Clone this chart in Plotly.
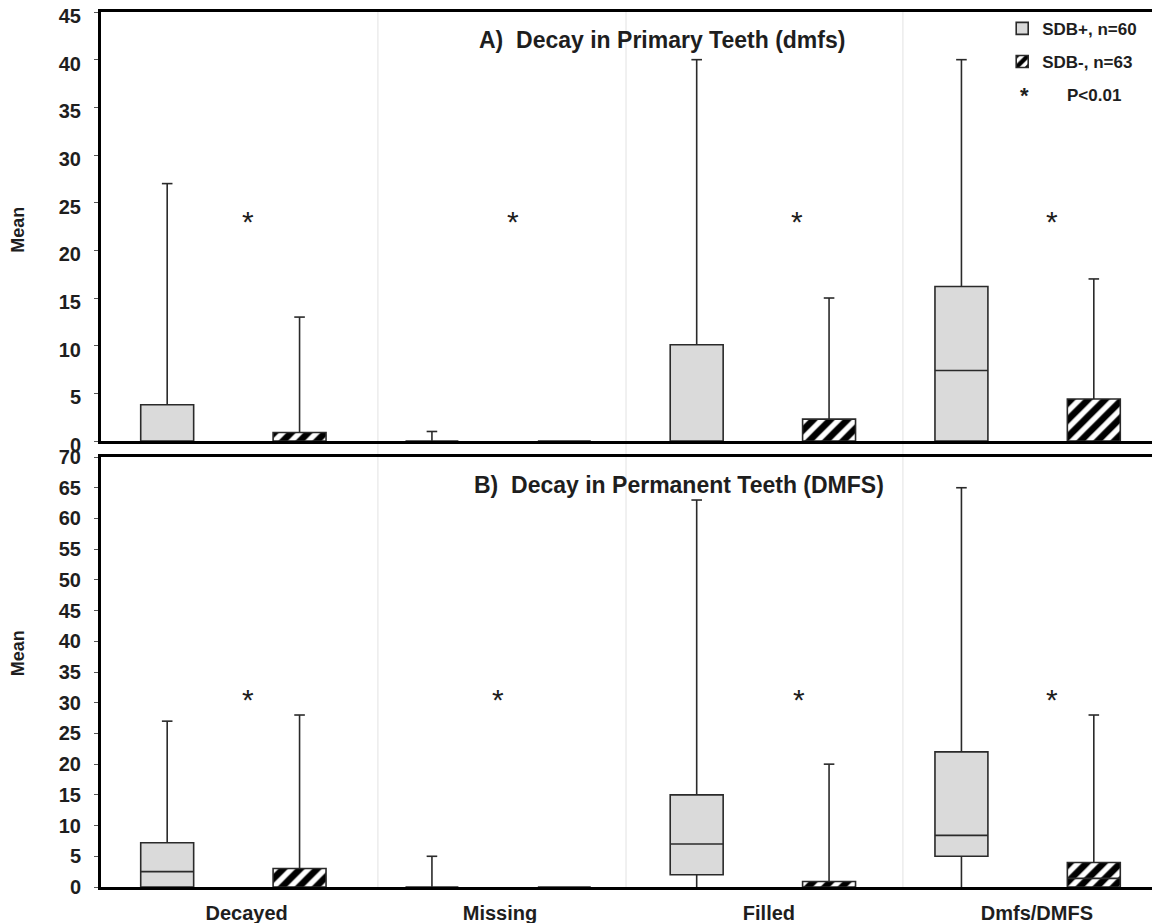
import plotly.graph_objects as go

# ---------------- data ----------------
categories = ["Decayed", "Missing", "Filled", "Dmfs/DMFS"]
series_names = ["SDB+, n=60", "SDB-, n=63"]

# Panel A: Decay in primary teeth (dmfs)
a_pos_min = [0, 0, 0, 0]
a_pos_q1 = [0, 0, 0, 0]
a_pos_med = [0, 0, 0, 7.4]
a_pos_q3 = [3.8, 0, 10.1, 16.2]
a_pos_max = [27, 1, 40, 40]

a_neg_min = [0, 0, 0, 0]
a_neg_q1 = [0, 0, 0, 0]
a_neg_med = [0, 0, 0, 0]
a_neg_q3 = [0.9, 0, 2.3, 4.4]
a_neg_max = [13, 0, 15, 17]

# Panel B: Decay in permanent teeth (DMFS)
b_pos_min = [0, 0, 0, 0]
b_pos_q1 = [0, 0, 2, 5]
b_pos_med = [2.5, 0, 7, 8.4]
b_pos_q3 = [7.2, 0, 15, 22]
b_pos_max = [27, 5, 63, 65]

b_neg_min = [0, 0, 0, 0]
b_neg_q1 = [0, 0, 0, 0]
b_neg_med = [0, 0, 0, 1.4]
b_neg_q3 = [3.0, 0, 0.9, 4.0]
b_neg_max = [28, 0, 20, 28]

# significance star heights (value units) per panel
a_star_level = 23.0
b_star_level = 30.6

y_ticks_a = list(range(0, 46, 5))
y_ticks_b = list(range(0, 71, 5))

# ---------------- layout constants ----------------
FONT = "Arial, Liberation Sans, sans-serif"
TXT = "#1e1e1e"
BOX_FILL = "#dadada"
EDGE = "#2a2a2a"
idx = list(range(len(categories)))
OFF = 0.25
BOX_W = 0.2
CAP = 0.02
pos_x = [i - OFF for i in idx]
neg_x = [i + OFF for i in idx]
label_shift = [0.05, 0.007, 0.023, 0.035]
star_shift_a = [0.055, 0.056, 0.129, 0.092]
star_shift_b = [0.055, -0.001, 0.136, 0.092]
separators = [0.546, 1.483, 2.529]


def whiskers(xs, mins, q1, q3, maxs):
    X, Y = [], []
    for x, mn, lo, hi, mx in zip(xs, mins, q1, q3, maxs):
        if mx > hi:
            X += [x, x, None, x - CAP, x + CAP, None]
            Y += [hi, mx, None, mx, mx, None]
        if lo > mn:
            X += [x, x, None]
            Y += [mn, lo, None]
    return X, Y


def medians(xs, q1, med):
    X, Y = [], []
    for x, lo, m in zip(xs, q1, med):
        if m > lo:
            X += [x - BOX_W / 2, x + BOX_W / 2, None]
            Y += [m, m, None]
    return X, Y


fig = go.Figure()

panels = [
    ("x", "y", a_pos_min, a_pos_q1, a_pos_med, a_pos_q3, a_pos_max,
     a_neg_min, a_neg_q1, a_neg_med, a_neg_q3, a_neg_max, True),
    ("x2", "y2", b_pos_min, b_pos_q1, b_pos_med, b_pos_q3, b_pos_max,
     b_neg_min, b_neg_q1, b_neg_med, b_neg_q3, b_neg_max, False),
]

for (xa, ya, pmn, pq1, pmd, pq3, pmx, nmn, nq1, nmd, nq3, nmx, show) in panels:
    for xs, mn, q1, q3, mx in [(pos_x, pmn, pq1, pq3, pmx), (neg_x, nmn, nq1, nq3, nmx)]:
        wx, wy = whiskers(xs, mn, q1, q3, mx)
        fig.add_trace(go.Scatter(x=wx, y=wy, mode="lines", xaxis=xa, yaxis=ya,
                                 line=dict(color=EDGE, width=1.6),
                                 showlegend=False, hoverinfo="skip"))
    fig.add_trace(go.Bar(
        x=pos_x, y=[h - l for h, l in zip(pq3, pq1)], base=pq1, width=BOX_W,
        xaxis=xa, yaxis=ya, name=series_names[0], legendgroup="pos",
        showlegend=show,
        marker=dict(color=BOX_FILL, line=dict(color=EDGE, width=1.6)),
    ))
    fig.add_trace(go.Bar(
        x=neg_x, y=[h - l for h, l in zip(nq3, nq1)], base=nq1, width=BOX_W,
        xaxis=xa, yaxis=ya, name=series_names[1], legendgroup="neg",
        showlegend=show,
        marker=dict(color="white", line=dict(color=EDGE, width=1.6),
                    pattern=dict(shape="/", fgcolor="#000000", bgcolor="white",
                                 fgopacity=1, size=12, solidity=0.55)),
    ))
    for xs, q1, md in [(pos_x, pq1, pmd), (neg_x, nq1, nmd)]:
        mx_, my_ = medians(xs, q1, md)
        fig.add_trace(go.Scatter(x=mx_, y=my_, mode="lines", xaxis=xa, yaxis=ya,
                                 line=dict(color=EDGE, width=1.6),
                                 showlegend=False, hoverinfo="skip"))

# ---------------- axes ----------------
axis_common = dict(showline=True, linecolor="black", linewidth=3,
                   showgrid=False, zeroline=False, automargin=False)
y_common = dict(axis_common, ticks="outside", ticklen=4, tickwidth=1,
                tickcolor="#555555", ticklabelstandoff=9,
                ticklabeloverflow="allow",
                tickfont=dict(family=FONT, size=20, color=TXT, weight="bold"))

# page body has an 8px default margin: figure is sized/offset to compensate
fig.update_layout(
    width=1152, height=915,
    margin=dict(l=93, r=0, t=4, b=36),
    paper_bgcolor="white", plot_bgcolor="white",
    barmode="overlay",
    xaxis=dict(axis_common, domain=[0, 1], range=[-0.5, 3.5], mirror=True,
               showticklabels=False, ticks="", anchor="y"),
    yaxis=dict(y_common, domain=[0.5097, 1.0], range=[0, 45],
               tickvals=y_ticks_a, anchor="x", ticklabelshift=4),
    xaxis2=dict(axis_common, domain=[0, 1], range=[-0.5, 3.5], mirror=True,
                tickvals=[i + s for i, s in zip(idx, label_shift)],
                ticktext=categories, ticks="", ticklabelstandoff=6,
                tickfont=dict(family=FONT, size=20, color=TXT, weight="bold"),
                anchor="y2"),
    yaxis2=dict(y_common, domain=[0, 0.4914], range=[0, 70],
                tickvals=y_ticks_b, anchor="x2"),
    legend=dict(x=0.851, y=1.0014, xanchor="left", yanchor="top",
                bgcolor="rgba(0,0,0,0)", traceorder="grouped",
                tracegroupgap=8,
                font=dict(family=FONT, size=17, color=TXT, weight="bold")),
    font=dict(family=FONT, color=TXT),
)

for s in separators:
    fig.add_shape(type="line", xref="x", yref="paper", x0=s, x1=s, y0=0, y1=1,
                  line=dict(color="#e2e2e2", width=1), layer="below")

ann = []
for i, sh in zip(idx, star_shift_a):
    ann.append(dict(x=i + sh, y=a_star_level, xref="x", yref="y", text="*",
                    showarrow=False, yanchor="middle",
                    font=dict(family=FONT, size=30, color=TXT)))
for i, sh in zip(idx, star_shift_b):
    ann.append(dict(x=i + sh, y=b_star_level, xref="x2", yref="y2", text="*",
                    showarrow=False, yanchor="middle",
                    font=dict(family=FONT, size=30, color=TXT)))
ann.append(dict(x=0.355, y=0.968, xref="paper", yref="paper", xanchor="left",
                yanchor="middle", showarrow=False,
                text="A)  Decay in Primary Teeth (dmfs)",
                font=dict(family=FONT, size=23, color=TXT, weight="bold")))
ann.append(dict(x=0.350, y=0.459, xref="paper", yref="paper", xanchor="left",
                yanchor="middle", showarrow=False,
                text="B)  Decay in Permanent Teeth (DMFS)",
                font=dict(family=FONT, size=23, color=TXT, weight="bold")))
for yc in (0.751, 0.267):
    ann.append(dict(x=-0.0784, y=yc, xref="paper", yref="paper", text="Mean",
                    textangle=-90, showarrow=False, xanchor="center", yanchor="middle",
                    font=dict(family=FONT, size=18, color=TXT, weight="bold")))
ann.append(dict(x=0.8716, y=0.905, xref="paper", yref="paper", text="*",
                showarrow=False, xanchor="center", yanchor="middle",
                font=dict(family=FONT, size=22, color=TXT, weight="bold")))
ann.append(dict(x=0.9103, y=0.905, xref="paper", yref="paper", text="P<0.01",
                showarrow=False, xanchor="left", yanchor="middle",
                font=dict(family=FONT, size=17, color=TXT, weight="bold")))
fig.update_layout(annotations=ann)

fig.write_html("out.html")
